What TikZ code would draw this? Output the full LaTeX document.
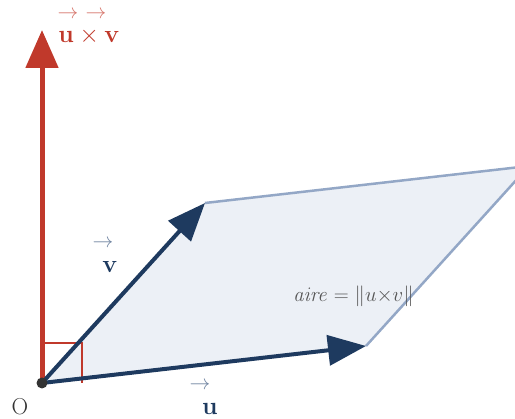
\documentclass[tikz,border=0pt]{standalone}
\usetikzlibrary{arrows.meta}
\begin{document}
\begin{tikzpicture}[x=1pt,y=1pt,
  vecline/.style={draw=navy,line width=4pt,-{Triangle[length=38pt,width=30pt]}},
  edgeline/.style={draw=edgeblue,line width=2.5pt},
  lbl/.style={font=\fontsize{27}{30}\selectfont,inner sep=0pt,anchor=base},
  arr/.style={font=\fontsize{21}{24}\selectfont,inner sep=0pt,anchor=center}]
\definecolor{navy}{HTML}{1E3A5F}
\definecolor{navyl}{HTML}{6F83A0}
\definecolor{edgeblue}{HTML}{93A7C6}
\definecolor{fillblue}{HTML}{ECF0F6}
\definecolor{redc}{HTML}{C0392B}
\definecolor{redl}{HTML}{D6756B}
\definecolor{grayt}{HTML}{555555}
\useasboundingbox (0,0) rectangle (515,419);
\clip (0,0) rectangle (515,419);
\coordinate (O) at (42,36);
\coordinate (U) at (366,73);
\coordinate (V) at (205,216);
\coordinate (W) at (529,253);
\coordinate (N) at (42,389);
\fill[fillblue] (O) -- (U) -- (W) -- (V) -- cycle;
\draw[edgeline] (V) -- (W) -- (U);
\draw[redc,line width=1.3pt] (42,76) -- (82,76) -- (82,36);
\draw[redc,line width=5pt,-{Triangle[length=38pt,width=32pt]}] (O) -- (N);
\draw[vecline] (O) -- (U);
\draw[vecline] (O) -- (V);
\fill[black!80] (O) circle (5.5pt);
% top label u x v
\node[lbl,text=redc] (nlab) at (89,376) {$\mathbf{u}\times\mathbf{v}$};
\node[arr,text=redl] (na1) at (68,404) {$\rightarrow$};
\node[arr,text=redl] (na2) at (96,404) {$\rightarrow$};
% v label
\node[lbl,text=navy] (vlab) at (110,146) {$\mathbf{v}$};
\node[arr,text=navyl] (va) at (103,175) {$\rightarrow$};
% u label
\node[lbl,text=navy] (ulab) at (210,4) {$\mathbf{u}$};
\node[arr,text=navyl] (ua) at (200,33) {$\rightarrow$};
% origin
\node[font=\fontsize{23}{26}\selectfont,text=black!80,inner sep=0pt,anchor=base] (olab) at (20,4) {O};
% area
\node[font=\fontsize{22}{26}\selectfont,text=grayt,inner sep=0pt,anchor=base west] (area) at (293,117) {$\mathit{aire} = \|u{\times}v\|$};
\end{tikzpicture}
\end{document}
